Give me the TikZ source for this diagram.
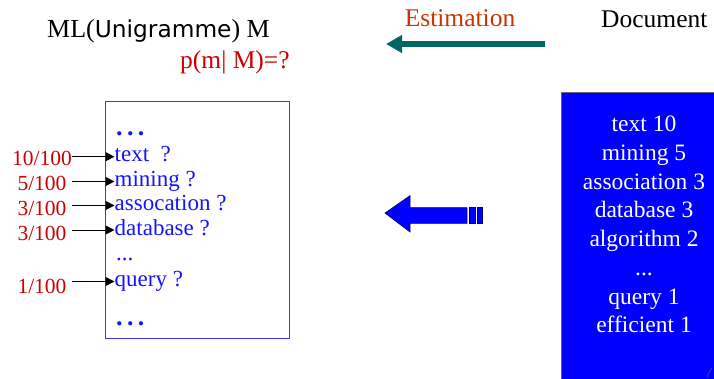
\documentclass[tikz,border=0pt]{standalone}
\usepackage{fontspec}
\setmainfont{Liberation Serif}
\newfontfamily\unisans{DejaVu Sans}
\usetikzlibrary{positioning,arrows.meta}
\definecolor{probred}{RGB}{204,0,0}
\definecolor{estorange}{RGB}{204,51,0}
\definecolor{wordblue}{RGB}{20,20,255}
\definecolor{docblue}{RGB}{0,0,255}
\definecolor{estteal}{RGB}{0,102,102}
\newcommand{\fsz}[1]{\fontsize{#1}{#1}\selectfont}

\begin{document}
\begin{tikzpicture}[
  x=1pt, y=-1pt,
  word/.style={anchor=base west, inner sep=0pt, text=wordblue, font=\fsz{23}, text height=10pt, text depth=0pt},
  wdots/.style={word, font=\fsz{26}\bfseries},
  prob/.style={anchor=base, inner sep=0pt, text width=60pt, align=center, text=probred, font=\fsz{21.5}},
  probarr/.style={-{Triangle[length=9pt,width=9pt]}, line width=1pt},
  modelbox/.style={draw=wordblue!85!white, line width=1pt, minimum width=184pt, minimum height=237pt, inner sep=0pt},
  docbox/.style={draw=black!60, fill=docblue, line width=0.8pt, minimum width=170pt, minimum height=300pt, inner sep=0pt},
  counts/.style={anchor=north, inner sep=0pt, align=center, text=white, font=\fontsize{23.5}{28.7}\selectfont},
  estarr/.style={draw=estteal, line width=6pt, -{Triangle[length=16pt,width=17pt]}},
  blockarr/.style={fill=docblue, draw=blue!40!black, line width=0.6pt}
]
\useasboundingbox (0,0) rectangle (714,378);

% top line
\node[anchor=base west, inner sep=0pt, font=\fsz{26}] (title) at (47,37.5)
  {ML({\unisans\fsz{23.3}Unigramme}) M};
\node[anchor=base west, inner sep=0pt, font=\fsz{25.5}, text=probred] (query-p) at (180,68.5) {p(m| M)=?};
\node[anchor=base, inner sep=0pt, font=\fsz{25.5}, text=estorange] (est) at (460,26.7) {Estimation};
\node[anchor=base west, inner sep=0pt, font=\fsz{25.5}] (doc-title) at (601,27) {Document};
\coordinate (est-from) at (545,44);
\coordinate (est-to) at (386,44);
\draw[estarr] (est-from) -- (est-to);

% the model: a bag of words
\node[modelbox] (model) at (197.5,219.5) {};
\node[wdots] (w-dots1) at (116,135) {.\,.\,.};
\node[word] (w-text) at (114.5,161.7) {text\ \ ?};
\node[word] (w-mining) at (114.5,186.5) {mining ?};
\node[word] (w-assoc) at (114.5,210.5) {assocation ?};
\node[word] (w-db) at (114.5,235) {database ?};
\node[word] (w-dots2) at (116,260) {...};
\node[word] (w-query) at (114.5,286.5) {query ?};
\node[wdots] (w-dots3) at (116,325) {.\,.\,.};

% estimated probabilities
\node[prob] (n-text) at (42,165) {10/100};
\node[prob] (n-mining) at (42,190) {5/100};
\node[prob] (n-assoc) at (42,215) {3/100};
\node[prob] (n-db) at (42,240) {3/100};
\node[prob] (n-query) at (42,293) {1/100};
\draw[probarr] (n-text.east |- w-text.west) -- (w-text.west);
\draw[probarr] (n-mining.east |- w-mining.west) -- (w-mining.west);
\draw[probarr] (n-assoc.east |- w-assoc.west) -- (w-assoc.west);
\draw[probarr] (n-db.east |- w-db.west) -- (w-db.west);
\draw[probarr] (n-query.east |- w-query.west) -- (w-query.west);

% block arrow from the document
\filldraw[blockarr] (385,213) -- (410,195.7) -- (410,207.7) -- (467,207.7)
  -- (467,223.3) -- (410,223.3) -- (410,232) -- cycle;
\filldraw[blockarr] (469,207.7) rectangle (475,223.3);
\filldraw[blockarr] (477,207.7) rectangle (482,223.3);

% the document
\node[docbox] (doc) at (646,242) {};
\node[counts] (doc-counts) at (644,116)
  {text 10\\mining 5\\association 3\\database 3\\algorithm 2\\...\\query 1\\efficient 1};
\draw[black!70, line width=0.7pt] (707,378) .. controls (709,372) .. (712,368);
\end{tikzpicture}
\end{document}
